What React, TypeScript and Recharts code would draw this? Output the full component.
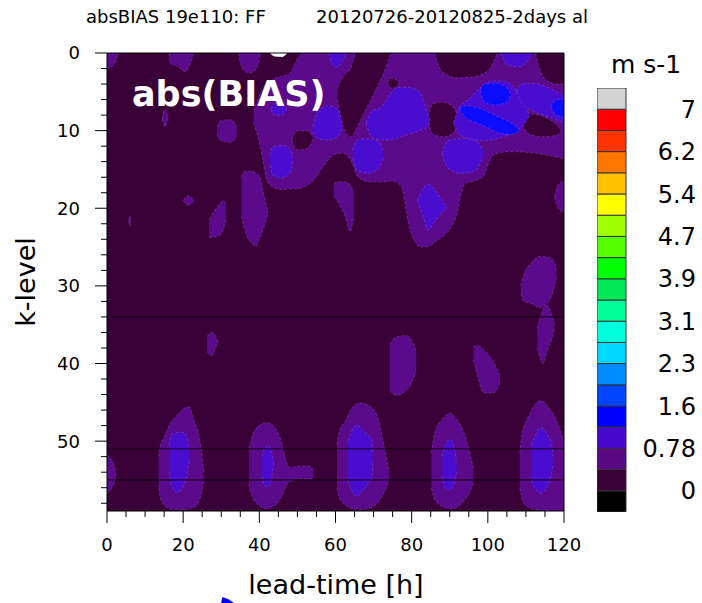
import { Area, Bar, BarChart, ComposedChart, Line, XAxis, YAxis } from 'recharts';

// [lead-time h, upper k-level, lower k-level] rows; each list is one filled contour patch
type Row = [number, number, number];

const FONT = '"DejaVu Sans", "Liberation Sans", sans-serif';

const leadTicks = [0, 20, 40, 60, 80, 100, 120];
const leadMinorTicks = [5, 10, 15, 25, 30, 35, 45, 50, 55, 65, 70, 75, 85, 90, 95, 105, 110, 115];
const levelTicks = [0, 10, 20, 30, 40, 50];
const levelMinorTicks = [2, 4, 6, 8, 12, 14, 16, 18, 22, 24, 26, 28, 32, 34, 36, 38, 42, 44, 46, 48, 52, 54, 56, 58];
const levelDomain: [number, number] = [0, 59];
const leadDomain: [number, number] = [0, 120];
const modelLevelLines = [34, 51, 55];

// colour bar, bottom to top
const barColors = [
  '#000000', '#3a0038', '#5a0882', '#4807cc', '#0000ff', '#0044ff', '#008cff', '#00d8ff', '#00ffdd', '#00ff99',
  '#00e855', '#00ff00', '#55ff00', '#a0ff00', '#ffff00', '#ffc000', '#ff7700', '#ff3300', '#ff0000', '#d3d3d3'
];
const barLabels = ['0', '0.78', '1.6', '2.3', '3.1', '3.9', '4.7', '5.4', '6.2', '7'];
const barLabelPos = [1, 3, 5, 7, 9, 11, 13, 15, 17, 19];

const BG = '#3a0038';
const L1 = '#5a0a8a';
const L2 = '#4a0ccf';
const L3 = '#0c0cff';

// ---- level 1 (0.39 - 0.78) ----
const topBand: Row[] = [
  [38.5, 7.5, 9], [40, 5.5, 11.5], [41, 4.6, 14], [42, 4, 16.5], [44, 3.3, 17.4], [46, 3, 17.6], [48, 2.6, 17.5],
  [50, 0.8, 17.5], [51.5, 0, 17.3], [54, 0, 16.5], [56, 0, 15.2], [58, 0, 13.8], [60, 0, 13], [62, 0, 12.9],
  [64, 0, 13.8], [66, 0, 16], [69, 0, 16.6], [72, 0, 16.6], [75, 0, 16.5], [77.3, 0, 17.2], [78.3, 0, 19.5],
  [79.3, 0, 22.2], [80.7, 0, 24.2], [82.5, 0, 25], [84.5, 0, 24.9], [86.5, 0, 24.2], [88.5, 0, 23.5],
  [90.5, 0, 22.3], [92, 0, 20.5], [92.8, 0, 18.5], [94, 0, 16.8], [97, 0, 16.4], [99, 0, 15.8], [100.5, 0, 13.8],
  [102, 0, 13], [106, 0, 12.7], [110, 0, 12.8], [114, 0, 13], [117, 0, 13.3], [120, 0, 13.6]
];
const cornerTL: Row[] = [[0, 0, 2], [1.5, 0, 1.7], [3, 0, 0]];
const top18h: Row[] = [[16.3, 0, 0], [16.6, 0, 1.3], [18.5, 0, 1.7], [20.5, 0, 2.4], [22, 0, 1.2], [22.8, 0, 0]];
const top37h: Row[] = [[34.5, 0, 0], [35.5, 0, 2], [37.5, 0, 2.6], [39.5, 0, 1.8], [40.3, 0, 0]];
const sliver15h: Row[] = [[14.5, 8.5, 8.5], [15.2, 7.3, 9.5], [16, 8.2, 8.4]];
const patch31h: Row[] = [[28.9, 9.5, 10.5], [30, 8.7, 11.3], [32.5, 8.6, 11.5], [34.1, 9.5, 10.8]];
const patch38h: Row[] = [[35.3, 16, 21], [36, 15.3, 22.5], [38, 15.2, 24.5], [39, 15.5, 24.9], [40, 15.8, 24], [41.5, 19, 22], [42.3, 20.5, 20.5]];
const dot21h: Row[] = [[20, 19, 19], [21.4, 18.4, 19.6], [22.8, 19, 19]];
const dot6h: Row[] = [[5.7, 21.6, 21.6], [6, 21, 22.3], [6.3, 21.6, 21.6]];
const patch29h: Row[] = [[26.8, 21.5, 23.8], [28, 20.5, 23.7], [29.5, 19.5, 23.5], [30.5, 19, 22.8], [31.2, 19.5, 21.5]];
const patch62h: Row[] = [[59.6, 16.8, 18.5], [61, 16.6, 19.5], [62.5, 16.6, 21], [63.8, 17, 23], [64.8, 18, 21]];
const edge118h: Row[] = [[117.5, 18.5, 18.5], [118.5, 17, 20], [120, 16.5, 20.5]];
const patch114hA: Row[] = [[108.7, 30, 31], [109.5, 28.5, 32], [111.5, 27, 32.3], [113.5, 26.2, 32.8], [116, 26.3, 32], [117.5, 27, 30], [118, 28, 29]];
const patch114hB: Row[] = [[113, 35.5, 38], [114.5, 33, 40], [115.5, 32.5, 38.5], [117, 34, 36.5], [117.5, 35, 35.5]];
const patch28h: Row[] = [[26.3, 36.5, 38.5], [27.5, 36, 39], [28.5, 36.5, 38], [29.2, 37.3, 37.3]];
const patch77h: Row[] = [[74.3, 37.5, 43.5], [76, 36.6, 44.1], [78.5, 36.4, 43.5], [80, 37, 42.5], [81.2, 38.5, 41]];
const patch99h: Row[] = [[96.2, 37.8, 39.5], [97.5, 37.7, 42], [99, 38.3, 43.8], [101.5, 39.8, 43.8], [103.2, 41.5, 42.5]];
const edge0h: Row[] = [[0, 51.8, 56.7], [1, 52.3, 56.2], [2, 53.3, 55.3], [2.3, 54.3, 54.3]];
const low18h: Row[] = [
  [13.6, 52, 56], [14, 50.5, 57.3], [15, 49.5, 58.2], [16.5, 47.8, 58.7], [18.5, 46.6, 58.8], [20.5, 45.7, 58.8],
  [21.5, 45.6, 58.7], [23, 47.5, 58.5], [24, 49, 57.8], [25, 52, 56.3], [25.4, 54, 54.8]
];
const low42h: Row[] = [
  [37.3, 51, 55.5], [38, 49.5, 57], [40, 48, 58.3], [42, 47.6, 58.7], [44, 48.2, 58.3], [46, 50.5, 57],
  [47, 52.5, 55.8], [48, 53.4, 55.2], [51, 53.2, 54.8], [53, 53.2, 54.9], [54.2, 53.6, 54.8]
];
const low66h: Row[] = [
  [60.4, 50.5, 56], [61, 48.7, 57.3], [62.5, 47.5, 58.2], [64.5, 45.6, 58.7], [66.5, 45.1, 58.8], [69, 45.5, 58.6],
  [71, 46.8, 58], [72.3, 49.5, 57], [73.5, 52.5, 55.8], [74.1, 54, 54.8]
];
const low90h: Row[] = [
  [85.2, 51.5, 56], [86, 49, 57.5], [88, 47.2, 58.4], [90, 46.4, 58.7], [92, 47.3, 58.5], [93.5, 48.6, 57.8],
  [95, 51, 56.8], [96.2, 53.5, 55.5]
];
const low114h: Row[] = [
  [108.4, 51.5, 56], [109, 49, 57.5], [110.5, 47, 58.5], [112.5, 45.2, 58.8], [114, 44.8, 58.9], [116, 45.7, 59],
  [118, 47.3, 59], [120, 50, 59]
];

// ---- below 0.39 inside the upper band ----
const gap68h: Row[] = [[60.5, 4.5, 6], [62, 3, 9.5], [64, 2, 10.8], [65.5, 0, 9.8], [67, 0, 8.2], [69, 0, 6.3], [71, 0, 4.3], [73, 0, 2.2], [74.5, 0, 0]];
const gap94h: Row[] = [[86, 0, 0], [88, 0, 2.4], [92, 0, 3.2], [96, 0, 3.1], [100, 0, 2.3], [102.5, 0, 0]];
const gap75h: Row[] = [[73.5, 3.8, 3.8], [75, 3.2, 4.6], [76.7, 3.9, 3.9]];
const gap117h: Row[] = [[112.5, 0, 0], [114, 0, 2.6], [116, 0, 3.7], [118, 0, 4], [120, 0, 4]];
const gap88h: Row[] = [[84.3, 8.3, 8.3], [85.5, 6.6, 10.4], [88, 6.3, 10.8], [90.5, 6.8, 10.5], [92.7, 8.6, 8.6]];
const gap114h: Row[] = [[109, 9.2, 9.2], [111, 7.8, 10.5], [115, 8.3, 10.8], [118, 9.2, 10.6], [119.3, 10, 10]];
const gap51h: Row[] = [[48.5, 11.2, 11.2], [50, 10, 12.5], [52.5, 10, 12.3], [54.2, 11, 11]];

// ---- level 2 (0.78 - 1.2) ----
const mid46h: Row[] = [[42.8, 13.2, 14.4], [43.5, 12.1, 15.7], [46, 11.9, 16.1], [48, 12.3, 15.5], [48.8, 13.4, 13.9]];
const mid58h: Row[] = [[54, 9.5, 10.2], [55.5, 7.5, 11], [58, 6.8, 11.2], [60.5, 7.2, 10.8], [61.8, 9, 9.8]];
const mid45h: Row[] = [[43, 7.2, 7.2], [44, 6.5, 8], [46, 6.5, 8], [47.2, 7.2, 7.2]];
const mid60h: Row[] = [[58.3, 0, 0], [59, 0, 1.4], [60.5, 0, 1.8], [62, 0, 0.8], [62.8, 0, 0]];
const mid76h: Row[] = [[68, 9, 9], [69.5, 7.5, 10.8], [72, 7, 11.2], [74, 5.5, 11.2], [76, 4.5, 11], [79, 4.4, 10.5], [82, 5, 10], [84, 7.5, 9.5], [84.8, 8.7, 8.7]];
const mid100h: Row[] = [[91, 9, 9], [92.5, 7, 10.5], [95, 6, 11], [98, 4.5, 11.3], [101, 3.6, 11.2], [104, 3.6, 10.8], [107, 4.5, 10.2], [109.5, 6.5, 9.2], [111, 8, 8]];
const mid93h: Row[] = [[88, 13, 13], [89.5, 11.3, 14.8], [93, 11, 15.5], [96.5, 11.2, 15.2], [98.7, 12.5, 13.5]];
const mid113h: Row[] = [[107.5, 5, 5], [109, 4, 6.5], [112, 3.9, 7.5], [116, 4.5, 8.2], [120, 5.5, 9]];
const mid107h: Row[] = [[103.5, 0, 0], [105, 0, 1.5], [108, 0, 1.8], [110.5, 0, 1], [111.5, 0, 0]];
const mid68h: Row[] = [[64.5, 12.5, 13.5], [65.5, 11.3, 15], [68.5, 11, 15.5], [71.5, 11.5, 14.8], [72.5, 12.5, 13.5]];
const mid85h: Row[] = [[81.5, 19, 19], [83, 17.5, 21], [84.3, 16.9, 22.8], [86, 17.6, 21.8], [88, 19, 20.5], [89.3, 20, 20]];
const core18h: Row[] = [[16.3, 50.5, 54], [17, 49.2, 55.8], [18.5, 48.9, 56.6], [20, 48.9, 55.8], [21, 49.5, 54.3], [21.6, 51, 52.5]];
const core42h: Row[] = [[40.7, 52, 54.5], [41.5, 50.8, 55.8], [42.5, 50.6, 55.8], [43.3, 51.5, 54.5], [43.7, 53, 53]];
const core66h: Row[] = [[63.3, 50, 55], [64.2, 48.8, 56.3], [65.6, 47.9, 57.1], [67, 48.5, 56.5], [68.5, 49.2, 55.5], [69.6, 49.8, 54.5], [69.8, 51.5, 52.5]];
const core90h: Row[] = [[88, 52, 54.5], [88.7, 50.7, 56], [90, 49.8, 56.3], [91.2, 50.8, 55.5], [91.8, 53, 54]];
const core114h: Row[] = [[111.4, 50.5, 55], [112.3, 49.5, 56], [113.9, 48.3, 56.7], [115.5, 49, 56], [116.8, 50.5, 54], [117.1, 52, 53]];

// ---- level 3 (1.2 - 1.6) ----
const peak102h: Row[] = [[98, 4.8, 4.8], [99, 4, 6.3], [102, 3.9, 6.7], [105, 4.5, 6.3], [106, 5.3, 5.3]];
const peak100h: Row[] = [[92.5, 7.2, 7.2], [94, 6.8, 8.2], [97, 7, 9], [100, 7.6, 9.6], [103, 8.3, 10.3], [106, 9, 10.5], [108.5, 10, 10]];
const peak119h: Row[] = [[116.5, 7, 7], [118, 6, 8], [120, 6, 8.3]];

// missing values at the top edge
const missing45h: Row[] = [[42.8, 0, 0], [44, 0, 0.45], [46, 0, 0.5], [47.3, 0, 0]];

const layers: { color: string; patches: Row[][] }[] = [
  {
    color: L1,
    patches: [
      topBand, cornerTL, top18h, top37h, sliver15h, patch31h, patch38h, dot21h, dot6h, patch29h, patch62h, edge118h,
      patch114hA, patch114hB, patch28h, patch77h, patch99h, edge0h, low18h, low42h, low66h, low90h, low114h
    ]
  },
  { color: BG, patches: [gap68h, gap94h, gap75h, gap117h, gap88h, gap114h, gap51h] },
  {
    color: L2,
    patches: [mid46h, mid58h, mid45h, mid60h, mid76h, mid100h, mid93h, mid113h, mid107h, mid68h, mid85h, core18h, core42h, core66h, core90h, core114h]
  },
  { color: L3, patches: [peak102h, peak100h, peak119h] },
  { color: '#ffffff', patches: [missing45h] }
];

const toData = (rows: Row[]) => rows.map(([t, a, b]) => ({ t, k: [a, b] }));

const leadAll = [...leadTicks, ...leadMinorTicks].sort((a, b) => a - b);
const levelAll = [...levelTicks, ...levelMinorTicks].sort((a, b) => a - b);

// ticks point outward on every side; majors are 12px, minors 6px
const FrameTick = (props: any) => {
  const { x, y, payload, side } = props;
  const v = payload.value;
  const majors = side === 'bottom' || side === 'top' ? leadTicks : levelTicks;
  const major = majors.includes(v);
  const len = major ? 12 : 6;
  let line;
  let label = null;
  if (side === 'bottom') {
    line = <line x1={x} x2={x} y1={y} y2={y + len} stroke="#000" />;
    if (major)
      label = (
        <text x={x} y={y + 27} dy="0.72em" textAnchor="middle" fontSize={18} fontFamily={FONT} fill="#000">
          {v}
        </text>
      );
  } else if (side === 'top') {
    line = <line x1={x} x2={x} y1={y} y2={y - len} stroke="#000" />;
  } else if (side === 'left') {
    line = <line x1={x} x2={x - len} y1={y} y2={y} stroke="#000" />;
    if (major)
      label = (
        <text x={x - 27} y={y} dy="0.36em" textAnchor="end" fontSize={18} fontFamily={FONT} fill="#000">
          {v}
        </text>
      );
  } else {
    line = <line x1={x} x2={x + len} y1={y} y2={y} stroke="#000" />;
  }
  return (
    <g>
      {line}
      {label}
    </g>
  );
};

const ColorBarTick = (props: any) => {
  const { y, payload } = props;
  const idx = barLabelPos.indexOf(payload.value);
  return (
    <text x={99} y={y} dy="0.36em" textAnchor="end" fontSize={24} fontFamily={FONT} fill="#000">
      {barLabels[idx]}
    </text>
  );
};

const barRow = [Object.fromEntries([['name', 'cb'], ...barColors.map((_, i) => [`b${i}`, 1])])];

const black = { stroke: '#000', strokeWidth: 1 };

export default function App() {
  return (
    <div style={{ position: 'absolute', left: 0, top: 0, width: 702, height: 603, background: '#fff', overflow: 'hidden' }}>
      <div style={{ position: 'absolute', left: 107, top: 53, width: 457, height: 458, background: BG }} />
      <div style={{ position: 'absolute', left: 0, top: 0 }}>
        <ComposedChart width={702} height={603} margin={{ top: 52, left: 106, right: 137, bottom: 91 }}>
          <XAxis xAxisId="b" dataKey="t" type="number" domain={leadDomain} ticks={leadAll} interval={0} allowDataOverflow
            height={1} tickSize={0} tickMargin={0} tick={<FrameTick side="bottom" />} tickLine={false} axisLine={black} />
          <XAxis xAxisId="t" orientation="top" type="number" domain={leadDomain} ticks={leadAll} interval={0} height={1}
            tickSize={0} tickMargin={0} tick={<FrameTick side="top" />} tickLine={false} axisLine={black} />
          <YAxis yAxisId="l" type="number" domain={levelDomain} reversed ticks={levelAll} interval={0} allowDataOverflow
            width={1} tickSize={0} tickMargin={0} tick={<FrameTick side="left" />} tickLine={false} axisLine={black} />
          <YAxis yAxisId="r" orientation="right" type="number" domain={levelDomain} reversed ticks={levelAll} interval={0}
            width={1} tickSize={0} tickMargin={0} tick={<FrameTick side="right" />} tickLine={false} axisLine={black} />

          {layers.map((layer, li) =>
            layer.patches.map((rows, pi) => (
              <Area
                key={`a${li}-${pi}`}
                xAxisId="b"
                yAxisId="l"
                data={toData(rows)}
                dataKey="k"
                type="monotone"
                fill={layer.color}
                fillOpacity={1}
                stroke="#a888e8"
                strokeOpacity={layer.color === '#ffffff' ? 0 : 0.35}
                strokeWidth={0.8}
                strokeDasharray="3 2"
                dot={false}
                activeDot={false}
                isAnimationActive={false}
              />
            ))
          )}

          {modelLevelLines.map((k) => (
            <Line
              key={`l${k}`}
              xAxisId="b"
              yAxisId="l"
              data={[{ t: leadDomain[0], k }, { t: leadDomain[1], k }]}
              dataKey="k"
              stroke="#160016"
              strokeWidth={1}
              dot={false}
              activeDot={false}
              isAnimationActive={false}
            />
          ))}
        </ComposedChart>
      </div>

      <div style={{ position: 'absolute', left: 597, top: 88 }}>
        <BarChart width={110} height={424} data={barRow} margin={{ top: 0, right: 80, bottom: 0, left: 0 }} barCategoryGap={0}>
          <XAxis dataKey="name" hide />
          <YAxis orientation="right" type="number" domain={[0, 20]} ticks={barLabelPos} interval={0} width={1}
            tick={<ColorBarTick />} tickLine={false} axisLine={false} />
          {barColors.map((c, i) => (
            <Bar key={`b${i}`} dataKey={`b${i}`} stackId="cb" fill={c} stroke="#333" strokeWidth={1} isAnimationActive={false} />
          ))}
        </BarChart>
      </div>

      <svg width={702} height={603} style={{ position: 'absolute', left: 0, top: 0, pointerEvents: 'none' }}>
        <text x={86} y={23} fontSize={18} fontFamily={FONT} fill="#000">absBIAS 19e110: FF</text>
        <text x={588} y={23} fontSize={18} fontFamily={FONT} fill="#000" textAnchor="end">20120726-20120825-2days al</text>
        <text x={132} y={106} fontSize={35} fontWeight="bold" fontFamily={FONT} fill="#fff">abs(BIAS)</text>
        <text x={611} y={73} fontSize={25} fontFamily={FONT} fill="#000">m s-1</text>
        <text x={336} y={594} fontSize={27} fontFamily={FONT} fill="#000" textAnchor="middle">lead-time [h]</text>
        <text x={35} y={282} fontSize={27} fontFamily={FONT} fill="#000" textAnchor="middle" transform="rotate(-90 35 282)">k-level</text>
        <path d="M221 603 L222.5 597 L229 599.5 L234 603 Z" fill="#0000ff" />
      </svg>
    </div>
  );
}
